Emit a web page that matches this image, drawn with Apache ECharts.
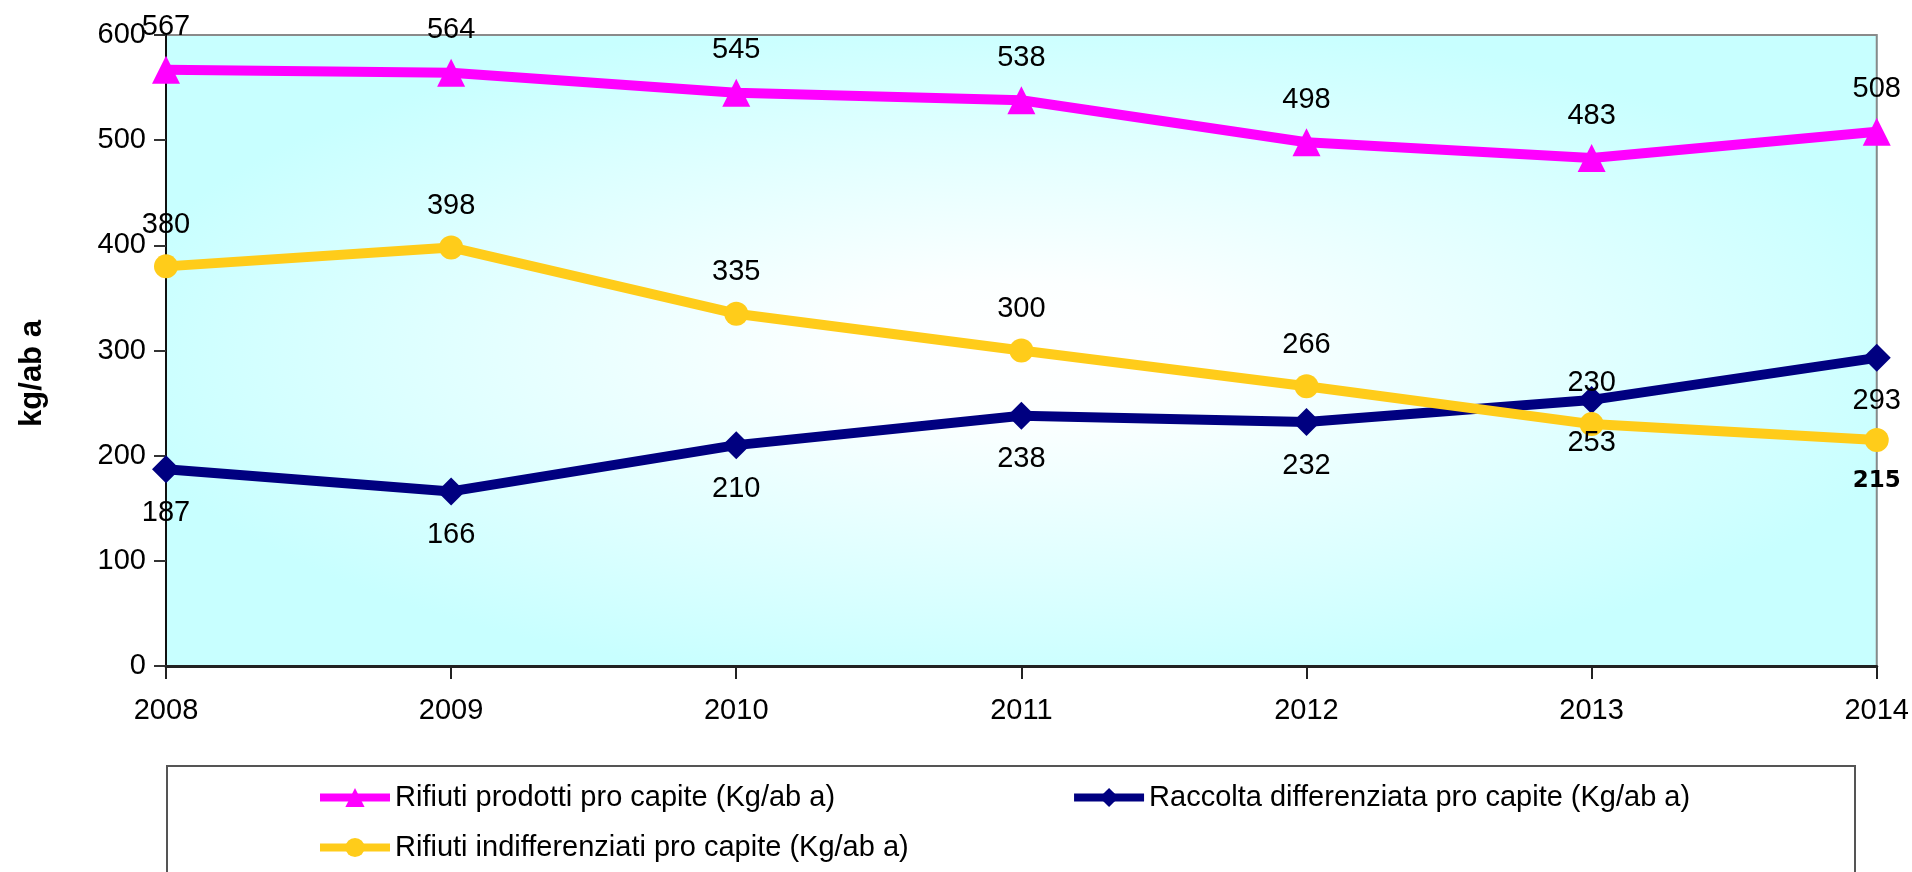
<!DOCTYPE html>
<html>
<head>
<meta charset="utf-8">
<title>Rifiuti pro capite 2008-2014</title>
<script src="https://cdn.jsdelivr.net/npm/echarts@6/dist/echarts.min.js"></script>
<style>
  html, body { margin: 0; padding: 0; background: #fff; }
  #chart { width: 1912px; height: 872px; }
</style>
</head>
<body>
<div id="chart"></div>
<script>
// anni
const years = ['2008', '2009', '2010', '2011', '2012', '2013', '2014'];

// valori kg/ab anno
const rifiutiProdotti = [567, 564, 545, 538, 498, 483, 508];
const raccoltaDifferenziata = [187, 166, 210, 238, 232, 253, 293];
const rifiutiIndifferenziati = [380, 398, 335, 300, 266, 230, 215];

const seriesNames = [
  'Rifiuti prodotti pro capite (Kg/ab a)',
  'Raccolta differenziata pro capite (Kg/ab a)',
  'Rifiuti indifferenziati pro capite (Kg/ab a)'
];

const yTicks = { min: 0, max: 600, interval: 100 };
const yAxisTitle = 'kg/ab a';

const FONT = '"Liberation Sans", Arial, sans-serif';

// area del grafico (px)
const plot = { left: 166, top: 35, width: 1712, height: 631 };

const chart = echarts.init(document.getElementById('chart'));

const labelStyle = {
  show: true,
  fontFamily: FONT,
  fontSize: 29,
  color: '#000'
};

const legendText = { fontFamily: FONT, fontSize: 29, color: '#000' };

const option = {
  animation: false,
  grid: {
    left: plot.left,
    top: plot.top,
    width: plot.width,
    height: plot.height,
    show: true,
    borderColor: '#8a8a8a',
    borderWidth: 2,
    backgroundColor: 'transparent'
  },
  graphic: [
    // sfondo sfumato dal centro
    {
      type: 'rect',
      z: -10,
      silent: true,
      x: plot.left,
      y: plot.top,
      scaleX: plot.width / plot.height,
      shape: { x: 0, y: 0, width: plot.height, height: plot.height },
      style: {
        fill: {
          type: 'radial', x: 0.5, y: 0.5, r: 0.54,
          colorStops: [
            { offset: 0, color: '#ffffff' },
            { offset: 0.2, color: '#fcffff' },
            { offset: 1, color: '#c8ffff' }
          ]
        }
      }
    },
    // cornice della legenda
    {
      type: 'rect',
      silent: true,
      x: 167,
      y: 766,
      shape: { x: 0, y: 0, width: 1688, height: 160 },
      style: { fill: '#fff', stroke: '#555', lineWidth: 2 },
      z: -10
    }
  ],
  legend: [
    {
      data: [seriesNames[0], seriesNames[1]],
      left: 311,
      top: 778,
      orient: 'horizontal',
      itemWidth: 70,
      itemHeight: 24,
      itemGap: 235,
      lineStyle: { width: 8 },
      textStyle: legendText
    },
    {
      data: [seriesNames[2]],
      left: 311,
      top: 828,
      itemWidth: 70,
      itemHeight: 24,
      lineStyle: { width: 8 },
      textStyle: legendText
    }
  ],
  xAxis: {
    type: 'category',
    data: years,
    boundaryGap: false,
    axisLine: { lineStyle: { color: '#222', width: 3 } },
    axisTick: { show: true, alignWithLabel: true, length: 13, lineStyle: { color: '#222', width: 2 } },
    axisLabel: { fontFamily: FONT, fontSize: 29, color: '#000', margin: 30 },
    splitLine: { show: false }
  },
  yAxis: {
    type: 'value',
    min: yTicks.min,
    max: yTicks.max,
    interval: yTicks.interval,
    name: yAxisTitle,
    nameLocation: 'middle',
    nameRotate: 90,
    nameGap: 118,
    nameTextStyle: {
      fontFamily: FONT, fontSize: 31, fontWeight: 'bold', color: '#000',
      padding: [0, 46, 0, 0]
    },
    axisLine: { show: true, lineStyle: { color: '#111', width: 2 } },
    axisTick: { show: true, length: 12, lineStyle: { color: '#333', width: 2 } },
    axisLabel: { fontFamily: FONT, fontSize: 29, color: '#000', margin: 20 },
    splitLine: { show: false }
  },
  series: [
    {
      name: seriesNames[0],
      type: 'line',
      data: rifiutiProdotti,
      symbol: 'triangle',
      symbolSize: 28,
      lineStyle: { color: '#ff00ff', width: 10 },
      itemStyle: { color: '#ff00ff' },
      label: Object.assign({}, labelStyle, { position: 'top', distance: 14 }),
      z: 4
    },
    {
      name: seriesNames[1],
      type: 'line',
      data: raccoltaDifferenziata,
      symbol: 'diamond',
      symbolSize: 28,
      lineStyle: { color: '#000080', width: 10 },
      itemStyle: { color: '#000080' },
      label: Object.assign({}, labelStyle, { position: 'bottom', distance: 15 }),
      z: 3
    },
    {
      name: seriesNames[2],
      type: 'line',
      data: rifiutiIndifferenziati.map((v, i) => {
        // l'ultimo valore ha l'etichetta sotto, in grassetto
        if (i === rifiutiIndifferenziati.length - 1) {
          return {
            value: v,
            label: {
              position: 'bottom', distance: 18,
              fontFamily: '"DejaVu Sans", sans-serif', fontWeight: 'bold', fontSize: 23
            }
          };
        }
        return v;
      }),
      symbol: 'circle',
      symbolSize: 24,
      lineStyle: { color: '#ffcc1a', width: 10 },
      itemStyle: { color: '#ffcc1a' },
      label: Object.assign({}, labelStyle, { position: 'top', distance: 15 }),
      z: 3
    }
  ]
};

chart.setOption(option);
window.addEventListener('resize', () => chart.resize());
</script>
</body>
</html>
